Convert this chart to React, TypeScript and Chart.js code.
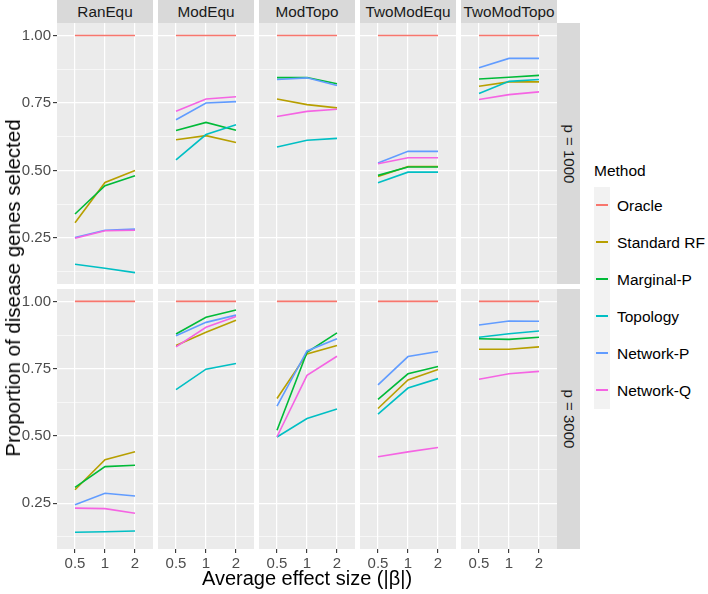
import React, { useEffect, useRef } from "react";
import { Chart, registerables } from "chart.js";

Chart.register(...registerables);

// ---------- data ----------
const scenarios = ["RanEqu", "ModEqu", "ModTopo", "TwoModEqu", "TwoModTopo"];
const effectSizes = ["0.5", "1", "2"];
const pLabels = ["p = 1000", "p = 3000"];
const methods = ["Oracle", "Standard RF", "Marginal-P", "Topology", "Network-P", "Network-Q"];
const methodColors = ["#F8766D", "#B79F00", "#00BA38", "#00BFC4", "#619CFF", "#F564E3"];
const yMajorTicks = [0.25, 0.5, 0.75, 1.0];
const yGridValues = [0.125, 0.25, 0.375, 0.5, 0.625, 0.75, 0.875, 1.0];
const yRange = [0.08, 1.046];

// each row = one scenario (RanEqu, ModEqu, ModTopo, TwoModEqu, TwoModTopo), values at |beta| = 0.5, 1, 2
const oracle1000 = [[1, 1, 1], [1, 1, 1], [1, 1, 1], [1, 1, 1], [1, 1, 1]];
const standardRF1000 = [[0.307, 0.456, 0.5], [0.614, 0.629, 0.604], [0.765, 0.744, 0.732], [0.478, 0.515, 0.515], [0.812, 0.828, 0.828]];
const marginalP1000 = [[0.339, 0.444, 0.481], [0.648, 0.678, 0.649], [0.844, 0.844, 0.821], [0.482, 0.513, 0.513], [0.839, 0.845, 0.852]];
const topology1000 = [[0.153, 0.138, 0.122], [0.539, 0.633, 0.669], [0.587, 0.612, 0.619], [0.455, 0.494, 0.494], [0.785, 0.83, 0.837]];
const networkP1000 = [[0.252, 0.279, 0.283], [0.688, 0.75, 0.755], [0.837, 0.843, 0.815], [0.528, 0.571, 0.571], [0.88, 0.915, 0.915]];
const networkQ1000 = [[0.249, 0.277, 0.279], [0.719, 0.765, 0.773], [0.7, 0.719, 0.727], [0.525, 0.547, 0.547], [0.763, 0.781, 0.791]];

const oracle3000 = [[1, 1, 1], [1, 1, 1], [1, 1, 1], [1, 1, 1], [1, 1, 1]];
const standardRF3000 = [[0.3, 0.412, 0.441], [0.836, 0.885, 0.93], [0.639, 0.805, 0.836], [0.602, 0.708, 0.747], [0.822, 0.822, 0.831]];
const marginalP3000 = [[0.309, 0.386, 0.391], [0.879, 0.941, 0.968], [0.521, 0.811, 0.883], [0.636, 0.731, 0.758], [0.861, 0.859, 0.867]];
const topology3000 = [[0.142, 0.144, 0.147], [0.672, 0.748, 0.769], [0.496, 0.565, 0.6], [0.581, 0.678, 0.713], [0.867, 0.88, 0.89]];
const networkP3000 = [[0.244, 0.287, 0.277], [0.872, 0.922, 0.949], [0.611, 0.816, 0.861], [0.69, 0.795, 0.814], [0.912, 0.927, 0.926]];
const networkQ3000 = [[0.232, 0.23, 0.213], [0.831, 0.904, 0.944], [0.497, 0.725, 0.796], [0.423, 0.441, 0.457], [0.711, 0.731, 0.74]];

const seriesByRow = [
  [oracle1000, standardRF1000, marginalP1000, topology1000, networkP1000, networkQ1000],
  [oracle3000, standardRF3000, marginalP3000, topology3000, networkP3000, networkQ3000],
];

// ---------- layout ----------
const FONT = "'Liberation Sans', Arial, sans-serif";
const PANEL_LEFT = 57;
const PANEL_W = 96;
const PANEL_STEP = 101;
const ROW_TOP = [23, 289];
const ROW_H = [261, 260];
const Y_AXIS_W = 57;
const X_AXIS_H = 26;

const isMajor = (v: number) => Math.abs(v * 4 - Math.round(v * 4)) < 1e-6;

const panelBg = {
  id: "panelBg",
  beforeDraw(chart: any) {
    const { ctx, chartArea: a } = chart;
    ctx.save();
    ctx.fillStyle = "#EBEBEB";
    ctx.fillRect(a.left, a.top, a.right - a.left, a.bottom - a.top);
    ctx.restore();
  },
};

const zeroPadding = (s: any) => {
  s.paddingLeft = 0;
  s.paddingRight = 0;
  s.paddingTop = 0;
  s.paddingBottom = 0;
};

function Panel({ row, col }: { row: number; col: number }) {
  const ref = useRef<HTMLCanvasElement | null>(null);
  const showY = col === 0;
  const showX = row === 1;
  const width = PANEL_W + (showY ? Y_AXIS_W : 0);
  const height = ROW_H[row] + (showX ? X_AXIS_H : 0);
  const left = PANEL_LEFT + col * PANEL_STEP - (showY ? Y_AXIS_W : 0);
  const top = ROW_TOP[row];

  useEffect(() => {
    if (!ref.current) return;
    const series = seriesByRow[row];
    const datasets = methods.map((m, i) => ({
      label: m,
      data: series[i][col].map((v, j) => ({ x: j + 1, y: v })),
      borderColor: methodColors[i],
      backgroundColor: methodColors[i],
      borderWidth: 1.6,
      pointRadius: 0,
      tension: 0,
      fill: false,
      order: methods.length - i,
    }));
    const chart = new Chart(ref.current, {
      type: "line",
      data: { datasets },
      plugins: [panelBg],
      options: {
        animation: false,
        responsive: false,
        maintainAspectRatio: false,
        layout: { padding: 0 },
        plugins: { legend: { display: false }, tooltip: { enabled: false } },
        scales: {
          x: {
            type: "linear",
            min: 0.4,
            max: 3.6,
            afterBuildTicks: (s: any) => {
              s.ticks = effectSizes.map((_, j) => ({ value: j + 1 }));
            },
            afterFit: (s: any) => {
              s.height = showX ? X_AXIS_H : 0;
              zeroPadding(s);
            },
            ticks: {
              display: showX,
              autoSkip: false,
              maxRotation: 0,
              padding: 2,
              color: "#4D4D4D",
              font: { family: FONT, size: 15 },
              callback: (v: any) => effectSizes[Math.round(v) - 1] ?? "",
            },
            grid: {
              color: "#FFFFFF",
              lineWidth: 1.2,
              drawTicks: showX,
              tickLength: 4,
              tickColor: "#333333",
              tickWidth: 1.1,
            },
            border: { display: false },
          },
          y: {
            type: "linear",
            min: yRange[0],
            max: yRange[1],
            afterBuildTicks: (s: any) => {
              s.ticks = yGridValues.map((v) => ({ value: v }));
            },
            afterFit: (s: any) => {
              s.width = showY ? Y_AXIS_W : 0;
              zeroPadding(s);
            },
            ticks: {
              display: showY,
              autoSkip: false,
              padding: 2,
              color: "#4D4D4D",
              font: { family: FONT, size: 15 },
              callback: (v: any) => (yMajorTicks.some((t) => Math.abs(t - v) < 1e-6) ? Number(v).toFixed(2) : ""),
            },
            grid: {
              color: "#FFFFFF",
              lineWidth: (c: any) => (isMajor(c.tick.value) ? 1.2 : 0.6),
              drawTicks: showY,
              tickLength: 4,
              tickColor: (c: any) => (isMajor(c.tick.value) ? "#333333" : "rgba(0,0,0,0)"),
              tickWidth: 1.1,
            },
            border: { display: false },
          },
        },
      } as any,
    });
    return () => chart.destroy();
  }, [row, col]);

  return (
    <canvas
      ref={ref}
      width={width}
      height={height}
      style={{ position: "absolute", left, top, width, height }}
    />
  );
}

export default function App() {
  const panels = [];
  for (let r = 0; r < 2; r++) for (let c = 0; c < 5; c++) panels.push(<Panel key={`${r}-${c}`} row={r} col={c} />);

  return (
    <div
      style={{
        position: "absolute",
        left: 0,
        top: 0,
        width: 708,
        height: 594,
        background: "#FFFFFF",
        fontFamily: FONT,
        overflow: "hidden",
      }}
    >
      {/* top strips */}
      {scenarios.map((s, c) => (
        <div
          key={s}
          style={{
            position: "absolute",
            left: PANEL_LEFT + c * PANEL_STEP,
            top: 0,
            width: PANEL_W,
            height: ROW_TOP[0],
            background: "#D9D9D9",
            color: "#1A1A1A",
            fontSize: 15.3,
            lineHeight: `${ROW_TOP[0]}px`,
            textAlign: "center",
            whiteSpace: "nowrap",
          }}
        >
          {s}
        </div>
      ))}
      {/* right strips */}
      {pLabels.map((p, r) => (
        <div
          key={p}
          style={{
            position: "absolute",
            left: PANEL_LEFT + 4 * PANEL_STEP + PANEL_W,
            top: ROW_TOP[r],
            width: 23,
            height: ROW_H[r],
            background: "#D9D9D9",
          }}
        >
          <div
            style={{
              position: "absolute",
              left: "50%",
              top: "50%",
              transform: "translate(-50%, -50%) rotate(90deg)",
              color: "#1A1A1A",
              fontSize: 15,
              whiteSpace: "nowrap",
            }}
          >
            {p}
          </div>
        </div>
      ))}
      {panels}
      {/* axis titles */}
      <div
        style={{
          position: "absolute",
          left: 13,
          top: 288,
          transform: "translate(-50%, -50%) rotate(-90deg)",
          fontSize: 20.5,
          color: "#000",
          whiteSpace: "nowrap",
        }}
      >
        Proportion of disease genes selected
      </div>
      <div
        style={{
          position: "absolute",
          left: 307,
          top: 578,
          transform: "translate(-50%, -50%)",
          fontSize: 20,
          color: "#000",
          whiteSpace: "nowrap",
        }}
      >
        Average effect size (|β|)
      </div>
      {/* legend */}
      <div style={{ position: "absolute", left: 594, top: 162, fontSize: 15.5, color: "#000", whiteSpace: "nowrap" }}>Method</div>
      {methods.map((m, i) => (
        <React.Fragment key={m}>
          <div
            style={{
              position: "absolute",
              left: 594,
              top: 187 + i * 37,
              width: 16,
              height: 37,
              background: "#F2F2F2",
            }}
          >
            <div
              style={{
                position: "absolute",
                left: 2,
                top: 17,
                width: 12,
                height: 0,
                borderTop: `2px solid ${methodColors[i]}`,
              }}
            />
          </div>
          <div
            style={{
              position: "absolute",
              left: 617,
              top: 187 + i * 37,
              height: 37,
              lineHeight: "37px",
              fontSize: 15.5,
              color: "#000",
              whiteSpace: "nowrap",
            }}
          >
            {m}
          </div>
        </React.Fragment>
      ))}
    </div>
  );
}
